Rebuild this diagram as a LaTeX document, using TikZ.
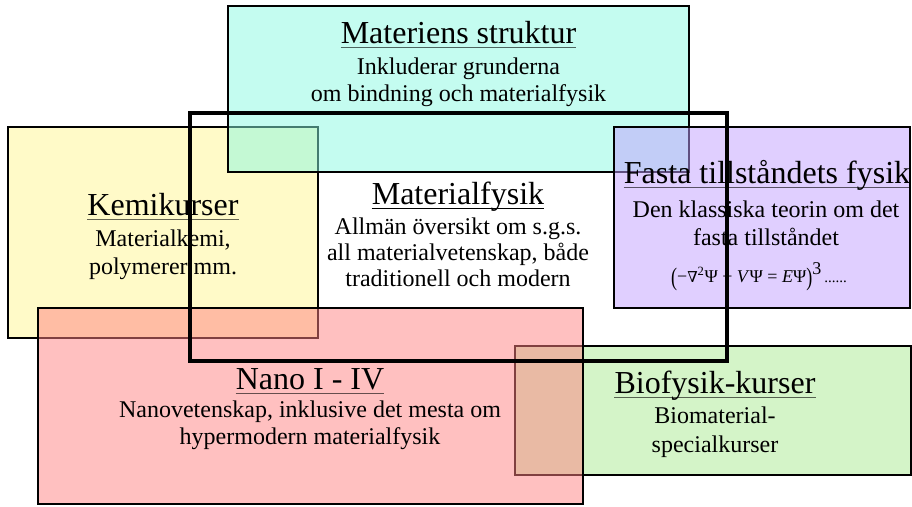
\documentclass[tikz,border=0pt]{standalone}
\usepackage{fontspec}
\setmainfont{Liberation Serif}
\newfontfamily\nablafont{DejaVu Serif}
\usepackage{graphicx}
\definecolor{yellowb}{RGB}{255,245,145}
\definecolor{cyanb}{RGB}{137,249,225}
\definecolor{purpleb}{RGB}{193,159,255}
\definecolor{greenb}{RGB}{169,233,145}
\definecolor{redb}{RGB}{255,129,129}
\tikzset{
  box/.style={draw=black, line width=2.6pt, fill opacity=0.5},
  bigframe/.style={draw=black, line width=3.8pt},
  ttl/.style={anchor=base, inner sep=0pt, font=\fontsize{32}{38}\selectfont},
  subt/.style={anchor=base, inner sep=0pt, font=\fontsize{24}{28}\selectfont},
  uline/.style={draw=black, draw opacity=0.6, line width=1.8pt},
  ulineb/.style={draw=black, line width=1.8pt},
}
\newcommand{\bigparen}[1]{\raisebox{-3pt}{\scalebox{1}[1.4]{#1}}}
\begin{document}
\begin{tikzpicture}[x=1pt,y=-1pt]
\useasboundingbox (0,0) rectangle (912,506);
% coloured boxes, in stacking order
\path[box, fill=yellowb] (8,127) rectangle (318,338);
\path[box, fill=cyanb] (228,6) rectangle (689,172);
\path[box, fill=purpleb] (614,127) rectangle (910,308);
\path[box, fill=greenb] (515,346) rectangle (911,475);
\path[box, fill=redb] (38,308) rectangle (583,504);

% Materiens struktur
\node[ttl] (mst) at (458.5,43) {Materiens struktur};
\draw[uline] ([yshift=-4.5pt]mst.base west) -- ([yshift=-4.5pt]mst.base east);
\node[subt] (ms1) at (458.5,74) {Inkluderar grunderna};
\node[subt] (ms2) at (458.5,101) {om bindning och materialfysik};

% Kemikurser
\node[ttl] (kt) at (163,215) {Kemikurser};
\draw[uline] ([yshift=-4.5pt]kt.base west) -- ([yshift=-4.5pt]kt.base east);
\node[subt] (k1) at (163,246) {Materialkemi,};
\node[subt] (k2) at (163,274) {polymerer mm.};

% Materialfysik
\node[ttl] (mft) at (458,204) {Materialfysik};
\draw[ulineb] ([yshift=-4.5pt]mft.base west) -- ([yshift=-4.5pt]mft.base east);
\node[subt] (mf1) at (458,234) {Allmän översikt om s.g.s.};
\node[subt] (mf2) at (458,260) {all materialvetenskap, både};
\node[subt] (mf3) at (458,286) {traditionell och modern};

% Fasta tillståndets fysik
\node[ttl] (ft) at (767,183) {Fasta tillståndets fysik};
\draw[uline] ([yshift=-4.5pt]ft.base west) -- ([yshift=-4.5pt]ft.base east);
\node[subt] (f1) at (766,217) {Den klassiska teorin om det};
\node[subt] (f2) at (766,245) {fasta tillståndet};
\node[anchor=base, inner sep=0pt, font=\fontsize{18}{22}\selectfont] (f3) at (759,282)
  {\bigparen{(}−{\nablafont\fontsize{15}{18}\selectfont ∇}\textsuperscript{2}Ψ + \textit{V}Ψ = \textit{E}Ψ\bigparen{)}\raisebox{8pt}{3}\,{\fontsize{15}{18}\selectfont ......}};

% Nano I - IV
\node[ttl] (nt) at (310,389) {Nano I - IV};
\draw[uline] ([yshift=-4.5pt]nt.base west) -- ([yshift=-4.5pt]nt.base east);
\node[subt] (n1) at (310,417) {Nanovetenskap, inklusive det mesta om};
\node[subt] (n2) at (310,444) {hypermodern materialfysik};

% Biofysik-kurser
\node[ttl] (bt) at (715,393) {Biofysik-kurser};
\draw[uline] ([yshift=-4.5pt]bt.base west) -- ([yshift=-4.5pt]bt.base east);
\node[subt] (b1) at (715,423) {Biomaterial-};
\node[subt] (b2) at (715,452) {specialkurser};

% Materialfysik frame on top
\path[bigframe] (190,113) rectangle (727,361);
\end{tikzpicture}
\end{document}
